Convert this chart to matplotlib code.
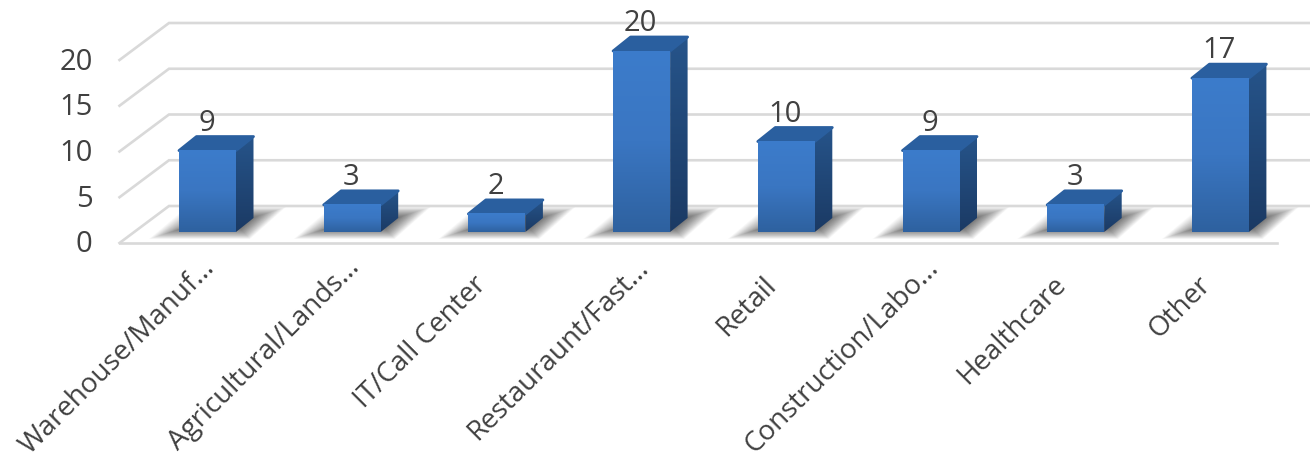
import matplotlib
matplotlib.use('Agg')
import matplotlib.pyplot as plt
from matplotlib.colors import LinearSegmentedColormap
from matplotlib.patches import Polygon
import numpy as np

categories = ['Warehouse/Manuf...', 'Agricultural/Lands...', 'IT/Call Center', 'Restauraunt/Fast...',
              'Retail', 'Construction/Labo...', 'Healthcare', 'Other']
values = [9, 3, 2, 20, 10, 9, 3, 17]
y_ticks = [0, 5, 10, 15, 20]

W, H = 1310, 455
X0, X_STEP = 207.5, 144.7   # pixel of first bar centre, pixels between bars
Y0, Y_STEP = 232.0, 9.05    # pixel of value 0 at the bar front, pixels per unit
WALL = 9.15 / 9.05          # back wall is drawn slightly taller than the bars
TEXT = '#404040'
GRID = '#d9d9d9'

plt.rcParams['font.family'] = ['Open Sans', 'DejaVu Sans']

fig = plt.figure(figsize=(W / 100, H / 100), dpi=100)
ax = fig.add_axes([0, 0, 1, 1])
# axes fill the figure, limits chosen so x = category index and y = value
ax.set_xlim(-X0 / X_STEP, (W - X0) / X_STEP)
ax.set_ylim((Y0 - H) / Y_STEP, Y0 / Y_STEP)
ax.axis('off')


def dx(px):
    return px / X_STEP


def dy(px):
    return px / Y_STEP


half = dx(28.5)          # half bar width
side_x, side_y = dx(17.5), dy(14)   # depth of a bar
floor_front = dy(-11)    # floor front edge relative to bar base
floor_back = dy(26)      # back wall base relative to bar base
grid_left = -dx(88)
back_left = -dx(38.5)
back_right = (W - X0) / X_STEP
floor_right = (1277 - X0) / X_STEP

# gridlines on the back wall and left side wall
for v in y_ticks:
    ax.plot([grid_left, back_left, back_right],
            [v * WALL + floor_front, v * WALL + floor_back, v * WALL + floor_back],
            color=GRID, lw=1.9, zorder=1, solid_joinstyle='miter')
    ax.text(-dx(115), v * WALL + floor_front - dy(2), str(v), ha='right', va='center', fontsize=21, color=TEXT)
ax.plot([grid_left, floor_right], [floor_front, floor_front], color=GRID, lw=1.9, zorder=1)

front_cmap = LinearSegmentedColormap.from_list('front', ['#3c7ccb', '#3a76c2', '#2e619f'])
side_cmap = LinearSegmentedColormap.from_list('side', ['#26548a', '#1b3a64'])
grad = np.linspace(0, 1, 256).reshape(-1, 1)

for i, v in enumerate(values):
    left, right = i - half, i + half

    # soft shadow on the floor, stacked translucent shapes
    for k in range(30):
        t = k / 29
        ins = dx(34) * t
        ins_y = dy(11) * t
        ax.add_patch(Polygon([(left - dx(30) + ins, dy(-7) + ins_y),
                              (right + dx(14) - ins * 0.3, dy(-7) + ins_y),
                              (right + dx(50) - ins, dy(25) - ins_y),
                              (left + dx(8) + ins, dy(25) - ins_y)],
                             closed=True, fc='#000000', ec='none', alpha=0.024, zorder=2))

    # side face
    side = Polygon([(right, 0), (right + side_x, side_y), (right + side_x, v + side_y), (right, v)],
                   closed=True, fc='none', ec='none', zorder=3)
    ax.add_patch(side)
    im = ax.imshow(grad, cmap=side_cmap, extent=[right, right + side_x, 0, v + side_y],
                   aspect='auto', zorder=3)
    im.set_clip_path(side)

    # top face
    ax.add_patch(Polygon([(left, v), (right, v), (right + side_x, v + side_y), (left + side_x, v + side_y)],
                         closed=True, fc='#2a5f9f', ec='#2a5f9f', lw=2, joinstyle='round', zorder=4))

    # front face
    ax.imshow(grad, cmap=front_cmap, extent=[left, right, 0, v], aspect='auto', zorder=5)

    ax.text(i - dx(1), v + side_y + dy(6), str(v), ha='center', va='baseline', fontsize=21, color=TEXT, zorder=6)

    # category labels, the cut ones sit further along their slant
    shift = 17 if categories[i].endswith('...') else 0
    ax.text(i + dx(-24 + shift), dy(-39 + shift), categories[i], rotation=45, rotation_mode='anchor',
            ha='right', va='top', fontsize=20, color=TEXT)

ax.set_xlim(-X0 / X_STEP, (W - X0) / X_STEP)
ax.set_ylim((Y0 - H) / Y_STEP, Y0 / Y_STEP)

fig.savefig('out.png', dpi=100, facecolor='white')
